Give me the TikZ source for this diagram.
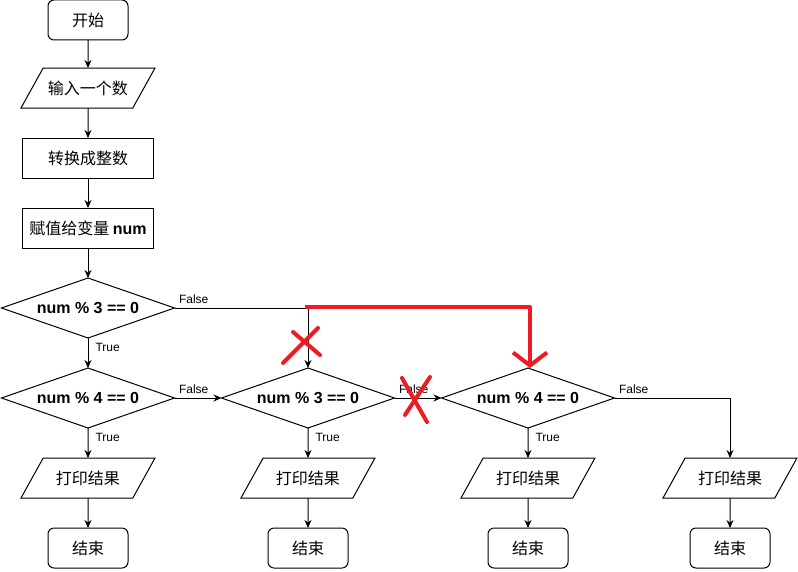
\documentclass[tikz,border=0pt]{standalone}
\usepackage{fontspec}
\setmainfont{Liberation Sans}
\newfontfamily\cjk{Noto Sans CJK SC}
\usetikzlibrary{positioning,arrows.meta,shapes.geometric}
\definecolor{markred}{HTML}{ED1C24}

\begin{document}
\begin{tikzpicture}[
  x=1pt, y=1pt, line width=1pt,
  term/.style={draw, rounded corners=6pt, minimum width=80pt, minimum height=40pt, inner sep=2pt, outer sep=0pt, font=\fontsize{16}{19}\selectfont\cjk},
  proc/.style={draw, minimum width=131pt, minimum height=40pt, inner sep=2pt, outer sep=0pt, font=\fontsize{16}{19}\selectfont\cjk},
  io/.style={draw, trapezium, trapezium left angle=61, trapezium right angle=119, trapezium stretches body, minimum width=134pt, minimum height=40pt, text height=14pt, text depth=2pt, inner xsep=2pt, inner ysep=12pt, outer sep=0pt, font=\fontsize{16}{19}\selectfont\cjk},
  cond/.style={draw, diamond, aspect=2.9, minimum width=173pt, minimum height=60pt, inner sep=0pt, outer sep=0pt, font=\fontsize{16}{19}\selectfont\bfseries},
  lab/.style={font=\fontsize{12}{14}\selectfont, inner sep=4pt},
  tlab/.style={lab, below right, xshift=3pt, yshift=-1pt},
  arr/.style={-{Stealth[length=8pt, width=7pt]}},
  redarr/.style={draw=markred, line width=4pt, line join=round, -{Straight Barb[length=13pt, width=34pt, line width=4pt]}},
  redmark/.style={draw=markred, line width=4pt, line cap=round},
  node distance=30pt]
  \useasboundingbox (0,0) rectangle (798,571);
  % main column
  \node[term] (s) at (88,551) {开始};
  \node[io, below=28pt of s] (in) {输入一个数};
  \node[proc, below=of in] (cv) {转换成整数};
  \node[proc, below=of cv] (asg) {赋值给变量 {\normalfont\bfseries num}};
  \node[cond, below=of asg] (d1) {num \% 3 == 0};
  \node[cond, below=of d1] (d2) {num \% 4 == 0};
  \node[cond, right=47pt of d2] (d3) {num \% 3 == 0};
  \node[cond, right=47pt of d3] (d4) {num \% 4 == 0};
  % outputs
  \node[io, below=of d2] (p1) {打印结果};
  \node[io, below=of d3] (p2) {打印结果};
  \node[io, below=of d4] (p3) {打印结果};
  \node[io] (p4) at (730,93) {打印结果};
  \node[term, below=of p1] (e1) {结束};
  \node[term, below=of p2] (e2) {结束};
  \node[term, below=of p3] (e3) {结束};
  \node[term, below=of p4] (e4) {结束};
  \draw[arr] (s) -- (in);
  \draw[arr] (in) -- (cv);
  \draw[arr] (cv) -- (asg);
  \draw[arr] (asg) -- (d1);
  \draw[arr] (d1) -- node[tlab, pos=0]{True} (d2);
  \draw[arr] (d1.east) -| node[lab, pos=0, above right]{False} (d3.north);
  \draw[arr] (d2) -- node[lab, pos=0, above right]{False} (d3);
  \draw[arr] (d3) -- node[lab, pos=0, above right]{False} (d4);
  \draw[arr] (d4.east) -| node[lab, pos=0, above right]{False} (p4.north);
  \draw[arr] (d2) -- node[tlab, pos=0]{True} (p1);
  \draw[arr] (d3) -- node[tlab, pos=0]{True} (p2);
  \draw[arr] (d4) -- node[tlab, pos=0]{True} (p3);
  \foreach \i in {1,...,4}
    \draw[arr] (p\i) -- (e\i);
  % red corrections
  \draw[redarr] ([xshift=-3pt,yshift=1pt]d1.east -| d3.north) -| ([xshift=2pt]d4.north);
  \draw[redmark] (283,208) -- (318,243);
  \draw[redmark] (293,239) -- (320,216);
  \draw[redmark] (405,156) -- (430,194);
  \draw[redmark] (402,193) -- (427,149);
\end{tikzpicture}
\end{document}
